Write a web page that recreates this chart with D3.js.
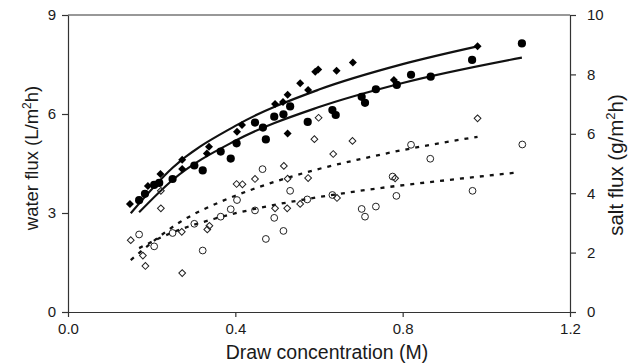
<!DOCTYPE html>
<html>
<head>
<meta charset="utf-8">
<script src="https://cdn.jsdelivr.net/npm/d3@7/dist/d3.min.js"></script>
<style>
  body { margin: 0; background: #fff; }
  svg text { font-family: "Liberation Sans", Arial, sans-serif; fill: #1a1a1a; }
  .axis path, .axis line { stroke: #333; stroke-width: 1.2; }
</style>
</head>
<body>
<div id="chart"></div>
<script>
// water flux, filled diamonds (L/m2h)
const waterDiamondConc = [0.148, 0.191, 0.221, 0.273, 0.273, 0.332, 0.337, 0.404, 0.416, 0.495, 0.514, 0.525, 0.525, 0.555, 0.574, 0.591, 0.598, 0.642, 0.681, 0.779, 0.979];
const waterDiamondFlux = [3.27, 3.82, 4.18, 4.61, 4.33, 4.80, 5.01, 5.46, 5.67, 6.30, 6.36, 6.58, 5.41, 6.93, 6.73, 7.28, 7.35, 7.31, 7.56, 7.03, 8.05];
// water flux, filled circles
const waterCircleConc = [0.170, 0.184, 0.206, 0.218, 0.250, 0.302, 0.322, 0.365, 0.389, 0.403, 0.447, 0.466, 0.473, 0.493, 0.515, 0.531, 0.573, 0.632, 0.640, 0.702, 0.710, 0.736, 0.786, 0.820, 0.867, 0.966, 1.085];
const waterCircleFlux = [3.39, 3.58, 3.85, 3.91, 4.03, 4.44, 4.29, 4.86, 4.65, 5.11, 5.74, 5.59, 5.23, 5.92, 5.99, 6.23, 5.76, 6.12, 5.97, 6.52, 6.34, 6.75, 6.88, 7.19, 7.13, 7.64, 8.14];
// salt flux, open diamonds (g/m2h)
const saltDiamondConc = [0.150, 0.179, 0.185, 0.222, 0.222, 0.272, 0.273, 0.333, 0.338, 0.403, 0.417, 0.447, 0.495, 0.516, 0.525, 0.524, 0.555, 0.574, 0.589, 0.599, 0.634, 0.643, 0.680, 0.782, 0.979];
const saltDiamondFlux = [2.42, 1.90, 1.55, 4.08, 3.49, 2.70, 1.31, 2.78, 2.90, 4.31, 4.30, 4.48, 3.49, 4.92, 4.49, 3.49, 3.64, 4.51, 5.82, 6.54, 5.32, 3.84, 5.76, 4.50, 6.52];
// salt flux, open circles
const saltCircleConc = [0.170, 0.206, 0.250, 0.302, 0.322, 0.365, 0.389, 0.404, 0.447, 0.465, 0.473, 0.493, 0.515, 0.531, 0.572, 0.632, 0.702, 0.710, 0.736, 0.776, 0.785, 0.820, 0.866, 0.967, 1.086];
const saltCircleFlux = [2.61, 2.21, 2.66, 2.97, 2.07, 3.21, 3.46, 3.77, 3.42, 4.81, 2.46, 3.17, 2.73, 4.08, 3.79, 3.94, 3.47, 3.21, 3.55, 4.56, 3.91, 5.63, 5.16, 4.08, 5.64];

// trend lines
const trendWaterDiamondConc = [0.15, 0.25, 0.4, 0.6, 0.8, 0.979];
const trendWaterDiamondFlux = [2.99, 4.37, 5.64, 6.74, 7.51, 8.05];
const trendWaterCircleConc = [0.17, 0.25, 0.4, 0.6, 0.8, 1.085];
const trendWaterCircleFlux = [3.02, 4.00, 5.19, 6.21, 6.94, 7.71];
const trendSaltDiamondConc = [0.15, 0.268, 0.371, 0.443, 0.523, 0.595, 0.69, 0.778, 0.979];
const trendSaltDiamondFlux = [1.75, 3.03, 3.75, 4.14, 4.51, 4.80, 5.12, 5.39, 5.90];
const trendSaltCircleConc = [0.17, 0.25, 0.35, 0.47, 0.6, 0.75, 0.9, 1.075];
const trendSaltCircleFlux = [2.15, 2.68, 3.14, 3.54, 3.87, 4.18, 4.43, 4.70];

const xTicks = [0, 0.4, 0.8, 1.2];
const waterTicks = [0, 3, 6, 9];
const saltTicks = [0, 2, 4, 6, 8, 10];

class FluxChart {
  constructor() {
    this.margin = { top: 15, right: 62, bottom: 52, left: 68 };
    this.width = 632 - this.margin.left - this.margin.right;
    this.height = 364 - this.margin.top - this.margin.bottom;
    this.draw();
  }

  zip(xs, ys) {
    return xs.map((x, i) => ({ x: x, y: ys[i] }));
  }

  draw() {
    const svg = d3.select('#chart').append('svg')
      .attr('width', 632).attr('height', 364)
      .append('g')
      .attr('transform', `translate(${this.margin.left},${this.margin.top})`);

    this.xScale = d3.scaleLinear().domain([0, 1.2]).range([0, this.width]);
    this.waterScale = d3.scaleLinear().domain([0, 9]).range([this.height, 0]);
    this.saltScale = d3.scaleLinear().domain([0, 10]).range([this.height, 0]);

    // axes
    svg.append('g').attr('class', 'axis')
      .attr('transform', `translate(0,${this.height})`)
      .call(d3.axisBottom(this.xScale).tickValues(xTicks).tickFormat(d3.format('.1f'))
        .tickSize(5).tickSizeOuter(0).tickPadding(6))
      .selectAll('text').style('font-size', '15px');

    svg.append('g').attr('class', 'axis')
      .call(d3.axisLeft(this.waterScale).tickValues(waterTicks)
        .tickSize(6).tickSizeOuter(0).tickPadding(6))
      .selectAll('text').style('font-size', '15px');

    svg.append('g').attr('class', 'axis')
      .attr('transform', `translate(${this.width},0)`)
      .call(d3.axisRight(this.saltScale).tickValues(saltTicks)
        .tickSize(6).tickSizeOuter(0).tickPadding(11))
      .selectAll('text').style('font-size', '15px');

    // top frame line
    svg.append('line')
      .attr('x1', 0).attr('x2', this.width).attr('y1', 0).attr('y2', 0)
      .attr('stroke', '#333').attr('stroke-width', 1.2);

    // trend lines
    const waterLine = d3.line().curve(d3.curveMonotoneX)
      .x(d => this.xScale(d.x)).y(d => this.waterScale(d.y));
    const saltLine = d3.line().curve(d3.curveMonotoneX)
      .x(d => this.xScale(d.x)).y(d => this.saltScale(d.y));

    [[trendWaterDiamondConc, trendWaterDiamondFlux], [trendWaterCircleConc, trendWaterCircleFlux]]
      .forEach(t => {
        svg.append('path').datum(this.zip(t[0], t[1]))
          .attr('d', waterLine).attr('fill', 'none')
          .attr('stroke', '#111').attr('stroke-width', 2.2);
      });
    [[trendSaltDiamondConc, trendSaltDiamondFlux], [trendSaltCircleConc, trendSaltCircleFlux]]
      .forEach(t => {
        svg.append('path').datum(this.zip(t[0], t[1]))
          .attr('d', saltLine).attr('fill', 'none')
          .attr('stroke', '#111').attr('stroke-width', 2.3)
          .attr('stroke-dasharray', '4 6');
      });

    // markers
    const filledDiamond = d3.symbol().type(d3.symbolSquare).size(32);
    const openDiamond = d3.symbol().type(d3.symbolSquare).size(23);

    svg.append('g').selectAll('path')
      .data(this.zip(saltDiamondConc, saltDiamondFlux)).join('path')
      .attr('d', openDiamond)
      .attr('transform', d => `translate(${this.xScale(d.x)},${this.saltScale(d.y)}) rotate(45)`)
      .attr('fill', 'none').attr('stroke', '#222').attr('stroke-width', 1);

    svg.append('g').selectAll('circle')
      .data(this.zip(saltCircleConc, saltCircleFlux)).join('circle')
      .attr('cx', d => this.xScale(d.x)).attr('cy', d => this.saltScale(d.y))
      .attr('r', 3.4)
      .attr('fill', 'none').attr('stroke', '#222').attr('stroke-width', 1);

    svg.append('g').selectAll('path')
      .data(this.zip(waterDiamondConc, waterDiamondFlux)).join('path')
      .attr('d', filledDiamond)
      .attr('transform', d => `translate(${this.xScale(d.x)},${this.waterScale(d.y)}) rotate(45)`)
      .attr('fill', '#000');

    svg.append('g').selectAll('circle')
      .data(this.zip(waterCircleConc, waterCircleFlux)).join('circle')
      .attr('cx', d => this.xScale(d.x)).attr('cy', d => this.waterScale(d.y))
      .attr('r', 4.1).attr('fill', '#000');

    // axis titles
    svg.append('text')
      .attr('x', this.width / 2 + 8).attr('y', this.height + 47)
      .attr('text-anchor', 'middle').style('font-size', '19.5px')
      .text('Draw concentration (M)');

    const leftTitle = svg.append('text')
      .attr('transform', `translate(${38 - this.margin.left},${158 - this.margin.top}) rotate(-90)`)
      .attr('text-anchor', 'middle').style('font-size', '18.5px');
    leftTitle.append('tspan').text('water flux (L/m');
    leftTitle.append('tspan').attr('dy', -7).style('font-size', '12px').text('2');
    leftTitle.append('tspan').attr('dy', 7).text('h)');

    const rightTitle = svg.append('text')
      .attr('transform', `translate(${623 - this.margin.left},${165 - this.margin.top}) rotate(-90)`)
      .attr('text-anchor', 'middle').style('font-size', '20.5px');
    rightTitle.append('tspan').text('salt flux (g/m');
    rightTitle.append('tspan').attr('dy', -8).style('font-size', '13px').text('2');
    rightTitle.append('tspan').attr('dy', 8).text('h)');
  }
}

new FluxChart();
</script>
</body>
</html>
